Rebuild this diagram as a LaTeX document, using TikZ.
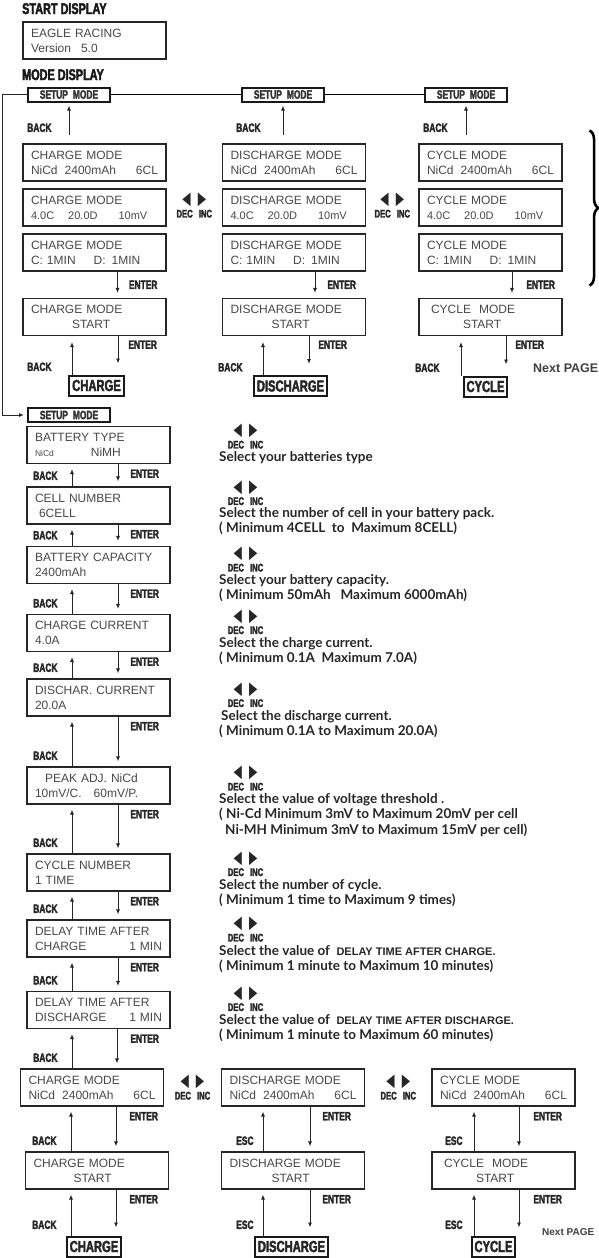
\documentclass[tikz,border=0pt]{standalone}
\usepackage{fontspec}
\setmainfont{Liberation Sans}
\newfontfamily\keyfont[FakeStretch=0.7,FakeBold=2.5]{Liberation Sans}
\newfontfamily\trifont[FakeStretch=0.6]{DejaVu Sans}
\newfontfamily\notefont{Lato}
\usetikzlibrary{positioning,calc,arrows.meta,decorations.pathreplacing}
\tikzstyle{lcd} = [rectangle, draw=black!85, line width=1.1pt, minimum width=143pt, minimum height=37pt, text width=127pt, inner xsep=8pt, inner ysep=0pt, align=left, text=black!72, font=\fontsize{12}{15}\selectfont]
\tikzstyle{setupbox} = [rectangle, draw=black!90, line width=2pt, minimum width=82pt, minimum height=14pt, inner sep=0pt, text=black!80, font=\keyfont\bfseries\fontsize{12}{12}\selectfont]
\tikzstyle{modebox} = [rectangle, draw=black!90, line width=2pt, minimum height=20pt, inner xsep=3pt, inner ysep=0pt, text=black!85, font=\keyfont\bfseries\fontsize{16}{16}\selectfont]
\tikzstyle{keylabel} = [inner sep=0pt, text=black!85, font=\keyfont\bfseries\fontsize{12}{12}\selectfont]
\tikzstyle{headline} = [inner sep=0pt, anchor=north west, text=black!90, font=\keyfont\bfseries\fontsize{15.5}{16}\selectfont]
\tikzstyle{decinc} = [inner sep=0pt, align=center, text=black!85, font=\fontsize{11}{12.5}\selectfont]
\tikzstyle{hint} = [inner sep=0pt, anchor=north west, align=left, text=black!85, font=\notefont\bfseries\fontsize{13.5}{15.5}\selectfont]
\tikzstyle{pagenote} = [inner sep=0pt, anchor=west, text=black!75, font=\bfseries\fontsize{12.5}{13}\selectfont]
\tikzstyle{arrow} = [line width=0.9pt, draw=black!85, -{Latex[length=5pt,width=4pt]}]
\newcommand{\dinc}{{\trifont\fontsize{18}{12}\selectfont ◀\hspace{7pt}▶}\\{\keyfont\bfseries DEC\hspace{6pt}INC}}

\begin{document}
\begin{tikzpicture}[x=1pt, y=-1pt, node distance=45pt]
  \useasboundingbox (0,0) rectangle (599,1258);
  % start and mode display
  \node (hd1)[headline] at (22,3) {START DISPLAY};
  \node (start)[lcd] at (94.5,40.5) {EAGLE RACING\\Version\hspace{10pt}5.0};
  \node (hd2)[headline] at (22,69) {MODE DISPLAY};
  \node (sm1)[setupbox] at (69,94.5) {SETUP\hspace{5pt}MODE};
  \node (sm2)[setupbox, right of=sm1, xshift=169pt] {SETUP\hspace{5pt}MODE};
  \node (sm3)[setupbox, right of=sm2, xshift=138pt] {SETUP\hspace{5pt}MODE};
  \node (cm1)[lcd] at (94.5,162.5) {CHARGE MODE\\NiCd\hspace{7pt}2400mAh\hfill 6CL};
  \node (cm2)[lcd, below of=cm1] {CHARGE MODE\\{\fontsize{11}{15}\selectfont 4.0C\hspace{14pt}20.0D\hspace{21pt}10mV}};
  \node (cm3)[lcd, below of=cm2] {CHARGE MODE\\C:\hspace{4pt}1MIN\hspace{18pt}D:\hspace{6pt}1MIN};
  \node (cm4)[lcd, below of=cm3, yshift=-19.5pt] {CHARGE MODE\\\hspace*{41pt}START};
  \node (cb1)[modebox, below of=cm4, xshift=2pt, yshift=-23.5pt] {CHARGE};
  \node (dm1)[lcd, right of=cm1, xshift=154.5pt] {DISCHARGE MODE\\NiCd\hspace{7pt}2400mAh\hfill 6CL};
  \node (dm2)[lcd, below of=dm1] {DISCHARGE MODE\\{\fontsize{11}{15}\selectfont 4.0C\hspace{14pt}20.0D\hspace{21pt}10mV}};
  \node (dm3)[lcd, below of=dm2] {DISCHARGE MODE\\C:\hspace{4pt}1MIN\hspace{18pt}D:\hspace{6pt}1MIN};
  \node (dm4)[lcd, below of=dm3, yshift=-19.5pt] {DISCHARGE MODE\\\hspace*{41pt}START};
  \node (db1)[modebox, below of=dm4, xshift=-3.5pt, yshift=-24pt] {DISCHARGE};
  \node (ym1)[lcd, right of=dm1, xshift=151.5pt] {CYCLE MODE\\NiCd\hspace{7pt}2400mAh\hfill 6CL};
  \node (ym2)[lcd, below of=ym1] {CYCLE MODE\\{\fontsize{11}{15}\selectfont 4.0C\hspace{14pt}20.0D\hspace{21pt}10mV}};
  \node (ym3)[lcd, below of=ym2] {CYCLE MODE\\C:\hspace{4pt}1MIN\hspace{18pt}D:\hspace{6pt}1MIN};
  \node (ym4)[lcd, below of=ym3, yshift=-19.5pt] {\hspace*{4pt}CYCLE\hspace{8pt}MODE\\\hspace*{36pt}START};
  \node (yb1)[modebox, below of=ym4, xshift=-5pt, yshift=-24.5pt] {CYCLE};
  \node (di1)[decinc, yshift=2pt] at ($(cm2.east)!0.5!(dm2.west)$) {\dinc};
  \node (di2)[decinc, yshift=2pt] at ($(dm2.east)!0.5!(ym2.west)$) {\dinc};
  \node (np1)[pagenote] at (533,368.5) {Next PAGE};
  \draw [line width=2.6pt, decorate, decoration={brace, amplitude=9pt}] ([xshift=27pt, yshift=13pt]ym1.north east) -- ([xshift=27pt, yshift=-14pt]ym3.south east);
  \draw (sm1) -- (sm2) -- (sm3);
  \draw [arrow, shorten <=8pt, shorten >=3pt] (cm1.north -| sm1.south) -- (sm1.south) node[keylabel, pos=0, anchor=south east, xshift=-17pt, yshift=11pt]{BACK};
  \draw [arrow, shorten <=8pt, shorten >=3pt] (dm1.north -| sm2.south) -- (sm2.south) node[keylabel, pos=0, anchor=south east, xshift=-22pt, yshift=11pt]{BACK};
  \draw [arrow, shorten <=8pt, shorten >=3pt] (ym1.north -| sm3.south) -- (sm3.south) node[keylabel, pos=0, anchor=south east, xshift=-18pt, yshift=11pt]{BACK};
  \draw [arrow, shorten >=5pt] ([xshift=23pt]cm3.south) -- ([xshift=23pt]cm4.north) node[keylabel, midway, right=11pt]{ENTER};
  \draw [arrow, shorten >=5pt] ([xshift=21pt]dm3.south) -- ([xshift=21pt]dm4.north) node[keylabel, midway, right=12pt]{ENTER};
  \draw [arrow, shorten >=5pt] ([xshift=21.5pt]ym3.south) -- ([xshift=21.5pt]ym4.north) node[keylabel, midway, right=14pt]{ENTER};
  \draw [arrow, shorten >=6pt] ([xshift=-24.5pt]cb1.north) -- ([xshift=-22.5pt]cm4.south) node[keylabel, pos=0, anchor=south east, xshift=-20pt, yshift=3pt]{BACK};
  \draw [arrow, shorten >=11pt] ([xshift=23.5pt]cm4.south) -- ([xshift=21.5pt]cb1.north) node[keylabel, pos=0, anchor=north west, xshift=10pt, yshift=-4pt]{ENTER};
  \draw [arrow, shorten >=6pt] ([xshift=-27.5pt]db1.north) -- ([xshift=-31pt]dm4.south) node[keylabel, pos=0, anchor=south east, xshift=-20pt, yshift=3pt]{BACK};
  \draw [arrow, shorten >=11pt] ([xshift=15pt]dm4.south) -- ([xshift=18.5pt]db1.north) node[keylabel, pos=0, anchor=north west, xshift=9pt, yshift=-4pt]{ENTER};
  \draw [arrow, shorten >=6pt] ([xshift=-24.5pt]yb1.north) -- ([xshift=-29.5pt]ym4.south) node[keylabel, pos=0, anchor=south east, xshift=-21pt, yshift=3pt]{BACK};
  \draw [arrow, shorten >=11pt] ([xshift=15.5pt]ym4.south) -- ([xshift=20.5pt]yb1.north) node[keylabel, pos=0, anchor=north west, xshift=9pt, yshift=-4pt]{ENTER};
  % setup mode
  \node (sm4)[setupbox] at (69,415) {SETUP\hspace{5pt}MODE};
  \draw [arrow, shorten >=3pt] (sm1.west) -- ++(-25,0) |- (sm4.west);
  \node (bt)[lcd] at (98.5,445) {BATTERY TYPE\\{\fontsize{8.5}{15}\selectfont NiCd}\hspace{37pt}NiMH};
  \node (cn)[lcd, below of=bt, yshift=-15.5pt] {CELL NUMBER\\\hspace*{4pt}6CELL};
  \node (bc)[lcd, below of=cn, yshift=-14.5pt] {BATTERY CAPACITY\\2400mAh};
  \node (cc)[lcd, below of=bc, yshift=-23pt] {CHARGE CURRENT\\4.0A};
  \node (dc)[lcd, below of=cc, yshift=-19.5pt] {DISCHAR. CURRENT\\20.0A};
  \node (pk)[lcd, below of=dc, yshift=-43pt] {\hspace*{10pt}PEAK ADJ. NiCd\\10mV/C.\hspace{12pt}60mV/P.};
  \node (cy)[lcd, below of=pk, yshift=-42pt] {CYCLE NUMBER\\1 TIME};
  \node (dtc)[lcd, below of=cy, yshift=-21pt] {DELAY TIME AFTER\\CHARGE\hfill 1 MIN};
  \node (dtd)[lcd, below of=dtc, yshift=-26.5pt] {DELAY TIME AFTER\\DISCHARGE\hfill 1 MIN};
  \draw [arrow, shorten >=5pt] ([xshift=-26.5pt]cn.north) -- ([xshift=-26.5pt]bt.south) node[keylabel, pos=0, anchor=south east, xshift=-14pt, yshift=6pt]{BACK};
  \draw [arrow, shorten >=5pt] ([xshift=19.5pt]bt.south) -- ([xshift=19.5pt]cn.north) node[keylabel, pos=0, anchor=north west, xshift=12pt, yshift=-5pt]{ENTER};
  \draw [arrow, shorten >=5pt] ([xshift=-26.5pt]bc.north) -- ([xshift=-26.5pt]cn.south) node[keylabel, pos=0, anchor=south east, xshift=-14pt, yshift=6pt]{BACK};
  \draw [arrow, shorten >=5pt] ([xshift=19.5pt]cn.south) -- ([xshift=19.5pt]bc.north) node[keylabel, pos=0, anchor=north west, xshift=12pt, yshift=-5pt]{ENTER};
  \draw [arrow, shorten >=5pt] ([xshift=-26.5pt]cc.north) -- ([xshift=-26.5pt]bc.south) node[keylabel, pos=0, anchor=south east, xshift=-14pt, yshift=6pt]{BACK};
  \draw [arrow, shorten >=5pt] ([xshift=19.5pt]bc.south) -- ([xshift=19.5pt]cc.north) node[keylabel, pos=0, anchor=north west, xshift=12pt, yshift=-5pt]{ENTER};
  \draw [arrow, shorten >=5pt] ([xshift=-26.5pt]dc.north) -- ([xshift=-26.5pt]cc.south) node[keylabel, pos=0, anchor=south east, xshift=-14pt, yshift=6pt]{BACK};
  \draw [arrow, shorten >=5pt] ([xshift=19.5pt]cc.south) -- ([xshift=19.5pt]dc.north) node[keylabel, pos=0, anchor=north west, xshift=12pt, yshift=-5pt]{ENTER};
  \draw [arrow, shorten >=5pt] ([xshift=-26.5pt]pk.north) -- ([xshift=-26.5pt]dc.south) node[keylabel, pos=0, anchor=south east, xshift=-14pt, yshift=6pt]{BACK};
  \draw [arrow, shorten >=5pt] ([xshift=19.5pt]dc.south) -- ([xshift=19.5pt]pk.north) node[keylabel, pos=0, anchor=north west, xshift=12pt, yshift=-5pt]{ENTER};
  \draw [arrow, shorten >=5pt] ([xshift=-26.5pt]cy.north) -- ([xshift=-26.5pt]pk.south) node[keylabel, pos=0, anchor=south east, xshift=-14pt, yshift=6pt]{BACK};
  \draw [arrow, shorten >=5pt] ([xshift=19.5pt]pk.south) -- ([xshift=19.5pt]cy.north) node[keylabel, pos=0, anchor=north west, xshift=12pt, yshift=-5pt]{ENTER};
  \draw [arrow, shorten >=5pt] ([xshift=-26.5pt]dtc.north) -- ([xshift=-26.5pt]cy.south) node[keylabel, pos=0, anchor=south east, xshift=-14pt, yshift=6pt]{BACK};
  \draw [arrow, shorten >=5pt] ([xshift=19.5pt]cy.south) -- ([xshift=19.5pt]dtc.north) node[keylabel, pos=0, anchor=north west, xshift=12pt, yshift=-5pt]{ENTER};
  \draw [arrow, shorten >=5pt] ([xshift=-26.5pt]dtd.north) -- ([xshift=-26.5pt]dtc.south) node[keylabel, pos=0, anchor=south east, xshift=-14pt, yshift=6pt]{BACK};
  \draw [arrow, shorten >=5pt] ([xshift=19.5pt]dtc.south) -- ([xshift=19.5pt]dtd.north) node[keylabel, pos=0, anchor=north west, xshift=12pt, yshift=-5pt]{ENTER};
  % hints for each setting
  \node (d1)[decinc] at (245.5,436.5) {\dinc};
  \node (s1)[hint] at (219,451) {Select your batteries type};
  \node (d2)[decinc] at (245.5,493) {\dinc};
  \node (s2)[hint] at (219,507) {Select the number of cell in your battery pack.\\( Minimum 4CELL\ \ to\ \ Maximum 8CELL)};
  \node (d3)[decinc] at (245.5,559.5) {\dinc};
  \node (s3)[hint] at (219,574) {Select your battery capacity.\\( Minimum 50mAh\ \ \ Maximum 6000mAh)};
  \node (d4)[decinc] at (245.5,622) {\dinc};
  \node (s4)[hint] at (219,637) {Select the charge current.\\( Minimum 0.1A\ \ Maximum 7.0A)};
  \node (d5)[decinc] at (245.5,695) {\dinc};
  \node (s5)[hint] at (219,710) {\hspace*{2pt}Select the discharge current.\\( Minimum 0.1A to Maximum 20.0A)};
  \node (d6)[decinc] at (245.5,778.5) {\dinc};
  \node (s6)[hint] at (219,793) {Select the value of voltage threshold .\\( Ni-Cd Minimum 3mV to Maximum 20mV per cell\\\hspace*{6pt}Ni-MH Minimum 3mV to Maximum 15mV per cell)};
  \node (d7)[decinc] at (245.5,864) {\dinc};
  \node (s7)[hint] at (219,879) {Select the number of cycle.\\( Minimum 1 time to Maximum 9 times)};
  \node (d8)[decinc] at (245.5,929.5) {\dinc};
  \node (s8)[hint] at (219,945) {Select the value of\ \ {\rmfamily\bfseries\fontsize{11}{15.5}\selectfont DELAY TIME AFTER CHARGE.}\\( Minimum 1 minute to Maximum 10 minutes)};
  \node (d9)[decinc] at (245.5,999) {\dinc};
  \node (s9)[hint] at (219,1014) {Select the value of\ \ {\rmfamily\bfseries\fontsize{11}{15.5}\selectfont DELAY TIME AFTER DISCHARGE.}\\( Minimum 1 minute to Maximum 60 minutes)};
  % back to the modes
  \node (cm5)[lcd, below of=dtd, xshift=-6.5pt, yshift=-32.5pt] {CHARGE MODE\\NiCd\hspace{7pt}2400mAh\hfill 6CL};
  \node (cs5)[lcd, below of=cm5, xshift=5pt, yshift=-38pt] {CHARGE MODE\\\hspace*{40pt}START};
  \node (cb2)[modebox, below of=cs5, xshift=-3pt, yshift=-31pt] {CHARGE};
  \node (dm5)[lcd, right of=cm5, xshift=156pt] {DISCHARGE MODE\\NiCd\hspace{7pt}2400mAh\hfill 6CL};
  \node (ds5)[lcd, below of=dm5, yshift=-38pt] {DISCHARGE MODE\\\hspace*{42pt}START};
  \node (db2)[modebox, below of=ds5, xshift=-1.5pt, yshift=-31pt] {DISCHARGE};
  \node (ym5)[lcd, right of=dm5, xshift=165.5pt] {CYCLE MODE\\NiCd\hspace{7pt}2400mAh\hfill 6CL};
  \node (ys5)[lcd, below of=ym5, yshift=-38pt] {\hspace*{4pt}CYCLE\hspace{8pt}MODE\\\hspace*{36pt}START};
  \node (yb2)[modebox, below of=ys5, xshift=-10pt, yshift=-31pt] {CYCLE};
  \node (di3)[decinc] at ($(cm5.east)!0.5!(dm5.west)$) {\dinc};
  \node (di4)[decinc] at ($(dm5.east)!0.5!(ym5.west)$) {\dinc};
  \node (np2)[pagenote, font=\bfseries\fontsize{10}{11}\selectfont] at (542,1232) {Next PAGE};
  \draw [arrow, shorten >=5pt] ([xshift=-20pt]cm5.north) -- ([xshift=-26.5pt]dtd.south) node[keylabel, pos=0, anchor=south east, xshift=-14pt, yshift=6pt]{BACK};
  \draw [arrow, shorten >=5pt] ([xshift=18.5pt]dtd.south) -- ([xshift=25pt]cm5.north) node[keylabel, pos=0, anchor=north west, xshift=13pt, yshift=-5pt]{ENTER};
  \draw [arrow, shorten >=5pt] ([xshift=-26pt]cs5.north) -- ([xshift=-21pt]cm5.south) node[keylabel, pos=0, anchor=south east, xshift=-14pt, yshift=6pt]{BACK};
  \draw [arrow, shorten >=5pt] ([xshift=24pt]cm5.south) -- ([xshift=19pt]cs5.north) node[keylabel, pos=0, anchor=north west, xshift=13pt, yshift=-5pt]{ENTER};
  \draw [arrow, shorten >=5pt] ([xshift=-23pt]cb2.north) -- ([xshift=-26pt]cs5.south) node[keylabel, pos=0, anchor=south east, xshift=-14pt, yshift=6pt]{BACK};
  \draw [arrow, shorten >=8pt] ([xshift=19pt]cs5.south) -- ([xshift=22pt]cb2.north) node[keylabel, pos=0, anchor=north west, xshift=13pt, yshift=-5pt]{ENTER};
  \draw [arrow, shorten >=5pt] ([xshift=-30pt]ds5.north) -- ([xshift=-30pt]dm5.south) node[keylabel, pos=0, anchor=south east, xshift=-9pt, yshift=6pt]{ESC};
  \draw [arrow, shorten >=5pt] ([xshift=17pt]dm5.south) -- ([xshift=17pt]ds5.north) node[keylabel, pos=0, anchor=north west, xshift=12pt, yshift=-5pt]{ENTER};
  \draw [arrow, shorten >=5pt] ([xshift=-28.5pt]db2.north) -- ([xshift=-30pt]ds5.south) node[keylabel, pos=0, anchor=south east, xshift=-9pt, yshift=6pt]{ESC};
  \draw [arrow, shorten >=8pt] ([xshift=17pt]ds5.south) -- ([xshift=18.5pt]db2.north) node[keylabel, pos=0, anchor=north west, xshift=12pt, yshift=-5pt]{ENTER};
  \draw [arrow, shorten >=5pt] ([xshift=-29.5pt]ys5.north) -- ([xshift=-29.5pt]ym5.south) node[keylabel, pos=0, anchor=south east, xshift=-11pt, yshift=6pt]{ESC};
  \draw [arrow, shorten >=5pt] ([xshift=15.5pt]ym5.south) -- ([xshift=15.5pt]ys5.north) node[keylabel, pos=0, anchor=north west, xshift=14pt, yshift=-5pt]{ENTER};
  \draw [arrow, shorten >=5pt] ([xshift=-19.5pt]yb2.north) -- ([xshift=-29.5pt]ys5.south) node[keylabel, pos=0, anchor=south east, xshift=-11pt, yshift=6pt]{ESC};
  \draw [arrow, shorten >=8pt] ([xshift=15.5pt]ys5.south) -- ([xshift=25.5pt]yb2.north) node[keylabel, pos=0, anchor=north west, xshift=14pt, yshift=-5pt]{ENTER};
\end{tikzpicture}
\end{document}
